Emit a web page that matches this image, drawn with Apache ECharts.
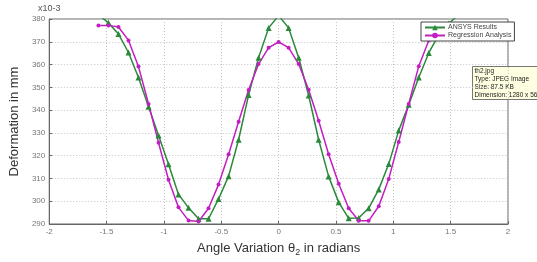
<!DOCTYPE html>
<html>
<head>
<meta charset="utf-8">
<script src="https://cdn.jsdelivr.net/npm/echarts@6/dist/echarts.min.js"></script>
<style>
  html, body { margin: 0; padding: 0; background: #fff; }
  #chart { width: 537px; height: 262px; }
</style>
</head>
<body>
<div id="chart"></div>
<script>
// angle variation theta2 (radians), 5 degree steps
const angles = [
  -1.571, -1.484, -1.396, -1.309, -1.222, -1.134, -1.047, -0.960, -0.873, -0.785,
  -0.698, -0.611, -0.524, -0.436, -0.349, -0.262, -0.175, -0.087, 0,
  0.087, 0.175, 0.262, 0.349, 0.436, 0.524, 0.611, 0.698, 0.785,
  0.873, 0.960, 1.047, 1.134, 1.222, 1.309, 1.396, 1.484, 1.571
]

// deformation (x10-3 mm); peaks just over 380 are clipped by the axes box
const ansysResults = [
  382, 378.3, 373.4, 365.3, 354.3, 341.5, 328.9, 316.2, 303, 297.1,
  292.3, 292.3, 301, 311, 327, 346.6, 363, 376.1, 381.5,
  376.1, 363, 346.4, 327, 310.9, 299.5, 292.5, 292.6, 296.9,
  305.2, 316.3, 331, 342.3, 354.3, 365.1, 373, 378, 382
]
const regression = [
  377.2, 377.2, 376.5, 370.6, 359.1, 342.7, 325.7, 309.4, 297.3, 291.5,
  291.1, 296.9, 307.3, 320.6, 334.9, 348.8, 360.2, 367.4, 369.9,
  367.4, 360.2, 348.9, 335.3, 320.6, 307.7, 296.9, 291.4, 291.4,
  297.8, 309.8, 326, 342.7, 359.3, 370.6, 376.5, 377.2, 377.2
]

const xTicks = ['-2', '-1.5', '-1', '-0.5', '0', '0.5', '1', '1.5', '2']
const infoLines = ['th2.jpg', 'Type: JPEG Image', 'Size: 87.5 KB', 'Dimension: 1280 x 563']

const chart = echarts.init(document.getElementById('chart'))

const pair = (ys) => angles.map((a, i) => [a, ys[i]])

const gridLine = { show: true, lineStyle: { color: '#c4c4c4', type: [1, 2], width: 1 } }
const axisLabelStyle = { color: '#777', fontSize: 8, fontFamily: 'Liberation Sans' }

const option = {
  animation: false,
  grid: { left: 37, right: 29, top: 19, bottom: 26, show: true, borderColor: '#666', borderWidth: 1 },
  xAxis: {
    type: 'value',
    min: -2,
    max: 2,
    interval: 0.5,
    name: '{a|Angle Variation θ}{s|2}{a| in radians}',
    nameLocation: 'middle',
    nameGap: 16,
    nameTextStyle: {
      rich: {
        a: { fontSize: 13, color: '#333', fontFamily: 'Liberation Sans' },
        s: { fontSize: 9, color: '#333', fontFamily: 'Liberation Sans', padding: [8, 0, 0, 0] }
      }
    },
    axisLine: { show: true, onZero: false, lineStyle: { color: '#666' } },
    axisTick: { show: true, inside: true, length: 3, lineStyle: { color: '#666' } },
    axisLabel: {
      ...axisLabelStyle,
      margin: 4,
      formatter: (v) => xTicks[Math.round((v + 2) / 0.5)]
    },
    splitLine: gridLine
  },
  yAxis: {
    type: 'value',
    min: 290,
    max: 380,
    interval: 10,
    name: 'Deformation in mm',
    nameLocation: 'middle',
    nameRotate: 90,
    nameGap: 23,
    nameTextStyle: { fontSize: 13, color: '#333', fontFamily: 'Liberation Sans' },
    axisLine: { show: true, onZero: false, lineStyle: { color: '#666' } },
    axisTick: { show: true, inside: true, length: 3, lineStyle: { color: '#666' } },
    axisLabel: { ...axisLabelStyle, margin: 4 },
    splitLine: gridLine
  },
  legend: {
    orient: 'vertical',
    left: 421,
    top: 22,
    itemGap: 1,
    itemWidth: 20,
    itemHeight: 7,
    padding: [2, 3, 2, 3],
    backgroundColor: '#fff',
    borderColor: '#444',
    borderWidth: 1,
    borderRadius: 0,
    textStyle: { fontSize: 7, color: '#444', fontFamily: 'Liberation Sans', padding: [0, 0, 0, -2] },
    data: ['ANSYS Results', 'Regression Analysis']
  },
  series: [
    {
      name: 'ANSYS Results',
      type: 'line',
      data: pair(ansysResults),
      symbol: 'triangle',
      symbolSize: 6,
      clip: true,
      lineStyle: { color: '#2a8a3a', width: 1.5 },
      itemStyle: { color: '#2a8a3a' }
    },
    {
      name: 'Regression Analysis',
      type: 'line',
      data: pair(regression),
      symbol: 'circle',
      symbolSize: 4,
      clip: true,
      lineStyle: { color: '#c21ec2', width: 1.5 },
      itemStyle: { color: '#c21ec2' }
    }
  ],
  graphic: [
    {
      type: 'text',
      left: 38,
      top: 4,
      style: { text: 'x10-3', fontSize: 9, fill: '#555', fontFamily: 'Liberation Sans' }
    },
    {
      type: 'group',
      left: 472,
      top: 66,
      z: 100,
      children: [
        {
          type: 'rect',
          shape: { x: 0, y: 0, width: 70, height: 33 },
          style: { fill: '#ffffe1', stroke: '#777', lineWidth: 1 }
        },
        {
          type: 'text',
          x: 2,
          y: 1,
          style: {
            text: infoLines.join('\n'),
            fontSize: 6.5,
            lineHeight: 8,
            fill: '#222',
            fontFamily: 'Liberation Sans'
          }
        }
      ]
    }
  ]
}

chart.setOption(option)
</script>
</body>
</html>
